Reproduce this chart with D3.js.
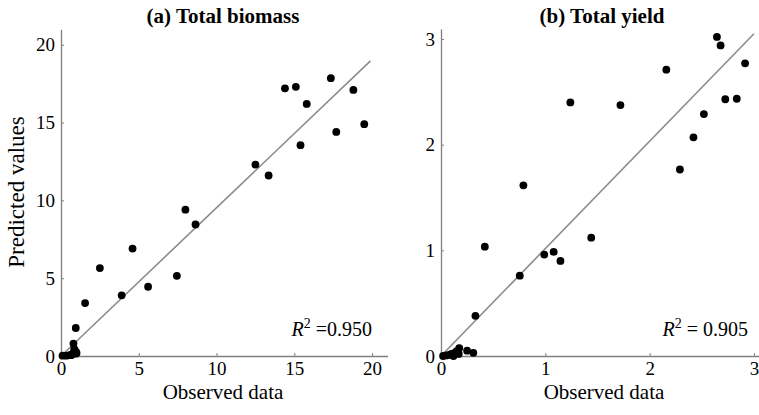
<!DOCTYPE html>
<html>
<head>
<meta charset="utf-8">
<script src="https://cdn.jsdelivr.net/npm/d3@7"></script>
<style>
  html, body { margin: 0; padding: 0; background: #fff; }
  svg { display: block; font-family: "Liberation Serif", "Times New Roman", serif; }
</style>
</head>
<body>
<svg id="chart" width="759" height="415"></svg>
<script>
// ---- Data ----
const biomassObserved = [14.4, 15.1, 17.35, 18.8, 15.8, 19.5, 17.7, 15.4, 12.5, 13.35, 8.0, 8.65, 4.6, 2.5, 7.45, 5.6, 3.9, 1.55, 0.95, 0.8, 0.95,
  0.1, 0.35, 0.55, 0.75, 0.85, 0.95, 1.0, 0.65];
const biomassPredicted = [17.2, 17.3, 17.85, 17.1, 16.2, 14.9, 14.4, 13.55, 12.3, 11.6, 9.4, 8.45, 6.9, 5.65, 5.15, 4.45, 3.9, 3.4, 1.8, 0.8, 0.3,
  0.02, 0.02, 0.05, 0.15, 0.45, 0.15, 0.2, 0.05];
const yieldObserved = [2.645, 2.68, 2.915, 2.16, 1.24, 1.72, 2.725, 2.835, 2.52, 2.42, 2.29, 0.79, 1.44, 0.42, 0.99, 1.08, 1.145, 0.755, 0.33, 0.175, 0.25, 0.31,
  0.02, 0.05, 0.08, 0.1, 0.13, 0.15, 0.17, 0.12];
const yieldPredicted = [3.02, 2.94, 2.77, 2.71, 2.40, 2.375, 2.43, 2.435, 2.29, 2.07, 1.765, 1.615, 1.12, 1.035, 0.96, 0.985, 0.90, 0.76, 0.38, 0.075, 0.05, 0.03,
  0.0, 0.005, 0.01, 0.02, 0.03, 0.045, 0.02, 0.0];
const biomassFit = [[0, 0], [19.9, 18.96]];
const yieldFit = [[0, 0], [3.0, 3.05]];
const biomassTicks = [0, 5, 10, 15, 20];
const yieldTicks = [0, 1, 2, 3];
const titles = ["(a) Total biomass", "(b) Total yield"];
const r2Labels = [{ pre: "R", sup: "2", post: " =0.950" }, { pre: "R", sup: "2", post: " = 0.905" }];
const xLabel = "Observed data";
const yLabel = "Predicted values";

// ---- Layout ----
const svg = d3.select("#chart");
const axisColor = "#7f7f7f";

const panels = [
  { obs: biomassObserved, pred: biomassPredicted, fit: biomassFit, ticks: biomassTicks,
    xDom: [0, 21], xRange: [61, 387.6], yDom: [0, 21], yRange: [356, 29.2],
    title: titles[0], titleX: 223, r2: r2Labels[0], r2X: 372, xLabelX: 223, yLabel: true },
  { obs: yieldObserved, pred: yieldPredicted, fit: yieldFit, ticks: yieldTicks,
    xDom: [0, 3.1], xRange: [441, 764.4], yDom: [0, 3.095], yRange: [356, 29],
    title: titles[1], titleX: 602, r2: r2Labels[1], r2X: 748, xLabelX: 604, yLabel: false }
];

panels.forEach(p => {
  const x = d3.scaleLinear().domain(p.xDom).range(p.xRange);
  const y = d3.scaleLinear().domain(p.yDom).range(p.yRange);
  const g = svg.append("g");

  // axes
  const xAxis = d3.axisBottom(x).tickValues(p.ticks).tickSizeInner(-3).tickSizeOuter(0).tickPadding(5.5)
    .tickFormat(d3.format("d"));
  const yAxis = d3.axisLeft(y).tickValues(p.ticks).tickSizeInner(-3).tickSizeOuter(0).tickPadding(6)
    .tickFormat(d3.format("d"));

  const gx = g.append("g").attr("transform", `translate(0,${p.yRange[0]})`).call(xAxis);
  const gy = g.append("g").attr("transform", `translate(${p.xRange[0]},0)`).call(yAxis);
  [gx, gy].forEach(a => {
    a.select(".domain").attr("stroke", axisColor).attr("stroke-width", 1.3);
    a.selectAll(".tick line").attr("stroke", axisColor).attr("stroke-width", 1);
    a.selectAll(".tick text").attr("fill", "#000").style("font-size", "19px")
      .style("font-family", "'Liberation Serif', 'Times New Roman', serif");
  });

  // fit line
  g.append("line")
    .attr("x1", x(p.fit[0][0])).attr("y1", y(p.fit[0][1]))
    .attr("x2", x(p.fit[1][0])).attr("y2", y(p.fit[1][1]))
    .attr("stroke", "#8c8c8c").attr("stroke-width", 1.6);

  // points
  g.append("g").selectAll("circle")
    .data(p.obs.map((o, i) => [o, p.pred[i]]))
    .join("circle")
    .attr("cx", d => x(d[0])).attr("cy", d => y(d[1]))
    .attr("r", 3.9).attr("fill", "#000");

  // title
  g.append("text").attr("x", p.titleX).attr("y", 23).attr("text-anchor", "middle")
    .style("font-size", "21px").style("font-weight", "bold").text(p.title);

  // x label
  g.append("text").attr("x", p.xLabelX).attr("y", 399).attr("text-anchor", "middle")
    .style("font-size", "21px").text(xLabel);

  // R2
  const t = g.append("text").attr("x", p.r2X).attr("y", 336).attr("text-anchor", "end")
    .style("font-size", "20px");
  t.append("tspan").style("font-style", "italic").text(p.r2.pre);
  t.append("tspan").attr("dy", -8).style("font-size", "14px").text(p.r2.sup);
  t.append("tspan").attr("dy", 8).text(p.r2.post);

  if (p.yLabel) {
    svg.append("text").attr("transform", "translate(24,192) rotate(-90)")
      .attr("text-anchor", "middle").style("font-size", "23px").text(yLabel);
  }
});
</script>
</body>
</html>
